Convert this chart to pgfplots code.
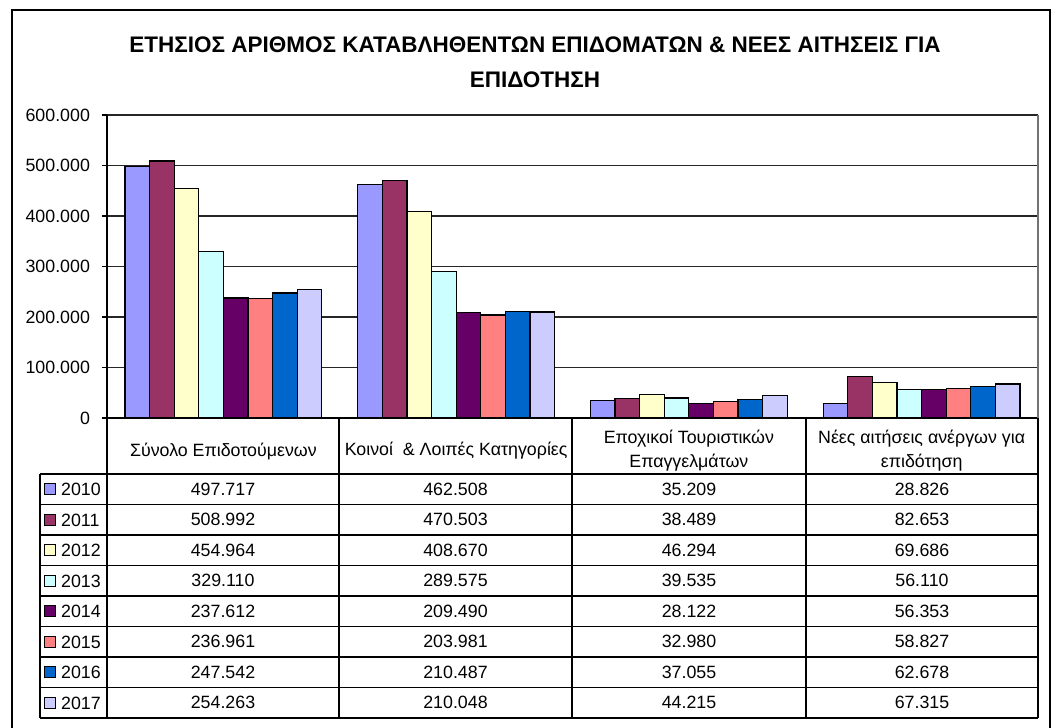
\documentclass[border=0pt]{standalone}
\usepackage{pgfplots}
\pgfplotsset{compat=1.18}
\usepackage{fontspec}
\setmainfont{Liberation Sans}
\definecolor{c1}{HTML}{9999FF}
\definecolor{c2}{HTML}{993366}
\definecolor{c3}{HTML}{FFFFCC}
\definecolor{c4}{HTML}{CCFFFF}
\definecolor{c5}{HTML}{660066}
\definecolor{c6}{HTML}{FF8080}
\definecolor{c7}{HTML}{0066CC}
\definecolor{c8}{HTML}{CCCCFF}
\newcommand\tfont{\fontsize{8.9}{12}\selectfont}
\pgfplotsset{ybar legend/.style={legend image code/.code={\draw[##1,draw=black,line width=0.5pt] (0pt,-2.85pt) rectangle (5.7pt,2.85pt);}}}
\begin{document}
\begin{tikzpicture}[font=\tfont]
\begin{axis}[
  name=ax, at={(0,0)}, anchor=south west,
  scale only axis, width=465.5pt, height=151.5pt,
  ybar=0pt, bar width=12.3pt,
  xmin=-0.5, xmax=3.5, ymin=0, ymax=600000,
  axis lines*=left,
  axis line style={black, line width=0.6pt},
  xtick={0,1,2,3},
  xticklabels={{Σύνολο Επιδοτούμενων},{Κοινοί~ \& Λοιπές Κατηγορίες},{Εποχικοί Τουριστικών\\Επαγγελμάτων},{Νέες αιτήσεις ανέργων για\\επιδότηση}},
  major x tick style={draw=none},
  xticklabel style={anchor=center, align=center, yshift=-14pt, font=\tfont},
  ytick={0,100000,...,600000},
  yticklabel={\pgfmathprintnumber[fixed,precision=0,assume math mode=true,1000 sep={.}]{\tick}},
  tick align=outside, major tick length=2.5pt,
  major y tick style={black, line width=0.6pt},
  yticklabel style={xshift=-2.5pt, font=\tfont},
  ymajorgrids, grid style={black!85, line width=0.6pt},
  scaled y ticks=false,
  legend style={at={(0,0)}, anchor=north west, xshift=-31.5pt, yshift=-28pt,
    draw=none, fill=none, inner sep=0pt, outer sep=0pt, row sep=0pt, column sep=2.4pt,
    nodes={inner sep=0pt, outer sep=0pt, text height=10.81pt, text depth=4.44pt, font=\tfont}},
  legend cell align=left,
  every axis plot/.append style={draw=black, line width=0.6pt},
]
\addplot[fill=c1] coordinates {(0,497717) (1,462508) (2,35209) (3,28826)};
\addplot[fill=c2] coordinates {(0,508992) (1,470503) (2,38489) (3,82653)};
\addplot[fill=c3] coordinates {(0,454964) (1,408670) (2,46294) (3,69686)};
\addplot[fill=c4] coordinates {(0,329110) (1,289575) (2,39535) (3,56110)};
\addplot[fill=c5] coordinates {(0,237612) (1,209490) (2,28122) (3,56353)};
\addplot[fill=c6] coordinates {(0,236961) (1,203981) (2,32980) (3,58827)};
\addplot[fill=c7] coordinates {(0,247542) (1,210487) (2,37055) (3,62678)};
\addplot[fill=c8] coordinates {(0,254263) (1,210048) (2,44215) (3,67315)};
\legend{2010,2011,2012,2013,2014,2015,2016,2017}
\end{axis}
\begin{scope}[x=0.5pt, y=-0.5pt, shift={(-107,-418)}]
  \useasboundingbox (0,0) rectangle (1053,727);
  % outer frame
  \draw[black, line width=1pt] (12,740) -- (12,10) -- (1050,10) -- (1050,740);
  % plot area right border
  \draw[black!55, line width=0.6pt] (1038,115) -- (1038,418);
  % title
  \node[align=center, font=\bfseries\fontsize{11.25}{17.5}\selectfont] at (535,62)
    {ΕΤΗΣΙΟΣ ΑΡΙΘΜΟΣ ΚΑΤΑΒΛΗΘΕΝΤΩΝ ΕΠΙΔΟΜΑΤΩΝ \& ΝΕΕΣ ΑΙΤΗΣΕΙΣ ΓΙΑ\\ΕΠΙΔΟΤΗΣΗ};
  % data table grid
  \begin{scope}[line width=0.6pt, black]
    \foreach \yy in {474,504.5,535,565.5,596,626.5,657,687.5,718}
      \draw (40,\yy) -- (1038,\yy);
    \draw (40,474) -- (40,718);
    \foreach \xx in {107,339,572,806,1038}
      \draw (\xx,418) -- (\xx,718);
  \end{scope}
  % data table values
  \foreach \row [count=\k from 0] in {
      {497.717/462.508/35.209/28.826},
      {508.992/470.503/38.489/82.653},
      {454.964/408.670/46.294/69.686},
      {329.110/289.575/39.535/56.110},
      {237.612/209.490/28.122/56.353},
      {236.961/203.981/32.980/58.827},
      {247.542/210.487/37.055/62.678},
      {254.263/210.048/44.215/67.315}} {
    \pgfmathsetmacro{\yc}{474+30.5*(\k+0.5)}
    \foreach \a/\b/\c/\d in \row {
      \node[inner sep=0pt] at (223,\yc) {\a};
      \node[inner sep=0pt] at (455.5,\yc) {\b};
      \node[inner sep=0pt] at (689,\yc) {\c};
      \node[inner sep=0pt] at (922,\yc) {\d};
    }
  }
\end{scope}
\end{tikzpicture}
\end{document}
